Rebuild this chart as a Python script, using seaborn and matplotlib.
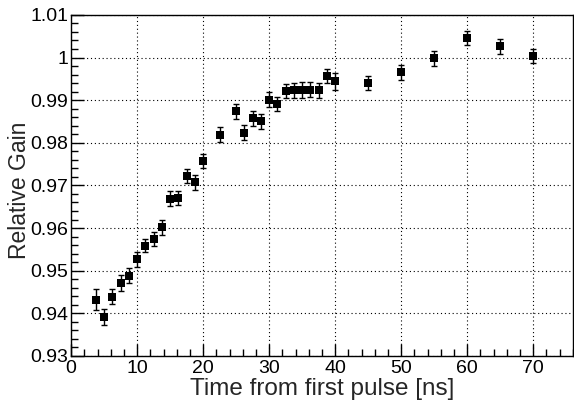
import numpy as np
import pandas as pd
import matplotlib
matplotlib.use("Agg")
import matplotlib.pyplot as plt
from matplotlib.ticker import MultipleLocator, FuncFormatter
import seaborn as sns

time_ns = [3.75, 5.0, 6.25, 7.5, 8.75, 10.0, 11.25, 12.5, 13.75, 15.0, 16.25, 17.5, 18.75,
           20.0, 22.5, 25.0, 26.25, 27.5, 28.75, 30.0, 31.25, 32.5, 33.75, 35.0, 36.25,
           37.5, 38.75, 40.0, 45.0, 50.0, 55.0, 60.0, 65.0, 70.0]
rel_gain = [0.9432, 0.9391, 0.9439, 0.9471, 0.9488, 0.9527, 0.9559, 0.9574, 0.9602,
            0.9669, 0.9671, 0.9722, 0.9707,
            0.9757, 0.9819, 0.9874, 0.9824, 0.9857, 0.9850, 0.9901, 0.9891, 0.9922,
            0.9923, 0.9924, 0.9925, 0.9923, 0.9957, 0.9944, 0.9940, 0.9965,
            0.9998, 1.0046, 1.0026, 1.0004]
gain_err = [0.0024, 0.0019, 0.0017, 0.0019, 0.0018, 0.0018, 0.0016, 0.0016, 0.0018,
            0.0017, 0.0017, 0.0017, 0.0017,
            0.0017, 0.0017, 0.0018, 0.0017, 0.0018, 0.0018, 0.0018, 0.0017, 0.0017,
            0.0018, 0.0018, 0.0018, 0.0017, 0.0017, 0.0019, 0.0017, 0.0017,
            0.0017, 0.0017, 0.0017, 0.0017]

df = pd.DataFrame({"t": time_ns, "g": rel_gain, "e": gain_err})

sns.set_style("white")
plt.rcParams["font.family"] = ["Liberation Sans", "DejaVu Sans"]

fig = plt.figure(figsize=(5.74, 4.08), dpi=100)
ax = fig.add_axes([0.124, 0.1275, 0.874, 0.836])

ax.errorbar(df["t"], df["g"], yerr=df["e"], fmt="none", ecolor="black",
            elinewidth=1.0, capsize=2, capthick=1.0, zorder=3)
sns.scatterplot(data=df, x="t", y="g", marker="s", color="black", s=26,
                edgecolor="black", linewidth=0, ax=ax, zorder=4, legend=False)

ax.set_xlim(0, 76)
ax.set_ylim(0.93, 1.01)
ax.xaxis.set_major_locator(MultipleLocator(10))
ax.xaxis.set_minor_locator(MultipleLocator(2))
ax.yaxis.set_major_locator(MultipleLocator(0.01))
ax.yaxis.set_minor_locator(MultipleLocator(0.002))

def yfmt(v, pos):
    s = f"{v:.2f}".rstrip("0").rstrip(".")
    return s
ax.yaxis.set_major_formatter(FuncFormatter(yfmt))

ax.tick_params(which="both", direction="in", colors="black", labelsize=14)
ax.tick_params(which="major", length=9, width=1)
ax.tick_params(which="minor", length=5, width=1)
ax.tick_params(axis="x", which="both", bottom=True, top=False, pad=3)
ax.tick_params(axis="y", which="both", left=True, right=False, pad=2)

ax.grid(True, which="major", color="black", linestyle=(0, (1, 2.5)), linewidth=0.8)
ax.set_axisbelow(True)
for sp in ax.spines.values():
    sp.set_color("black")
    sp.set_linewidth(1.0)

ax.set_xlabel("Time from first pulse [ns]", fontsize=17.5)
ax.xaxis.set_label_coords(0.5, -0.098)
ax.xaxis.label.set_va("center")
ax.set_ylabel("Relative Gain", fontsize=16.5)
ax.yaxis.set_label_coords(-0.104, 0.485)
ax.yaxis.label.set_va("center")

fig.savefig("out.png", dpi=100)
